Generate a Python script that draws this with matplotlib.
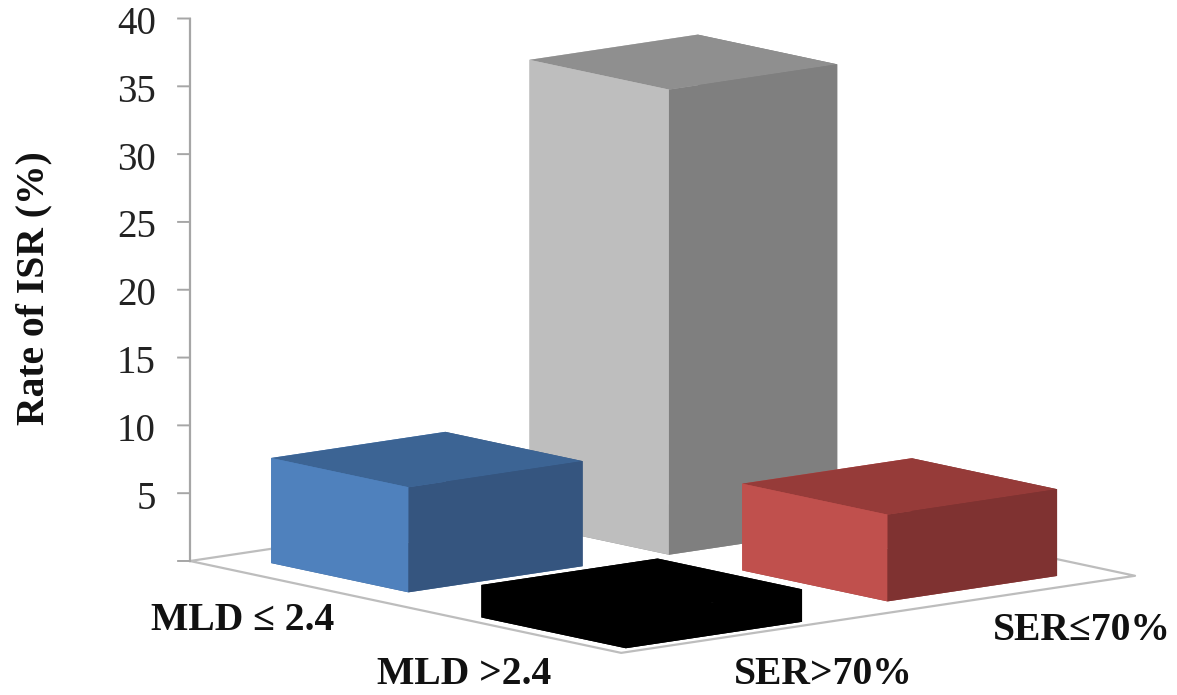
import matplotlib
matplotlib.use("Agg")
import matplotlib.pyplot as plt
from mpl_toolkits.mplot3d import proj3d

plt.rcParams['font.family'] = ['Liberation Serif', 'DejaVu Serif']

W, H = 1177, 695

mld_labels = ["MLD \u2264 2.4", "MLD >2.4"]
ser_labels = ["SER>70%", "SER\u226470%"]
# rate of ISR, rows = MLD group, columns = SER group
rate_low_mld = [7.75, 34.3]
rate_high_mld = [2.4, 6.4]
z_ticks = [0, 5, 10, 15, 20, 25, 30, 35, 40]
z_labels = ["", "5", "10", "15", "20", "25", "30", "35", "40"]
y_title = "Rate of ISR (%)"

# left face, top, right face
col_blue = ["#4F81BD", "#3C6494", "#35557F"]
col_gray = ["#BEBEBE", "#8F8F8F", "#7F7F7F"]
col_black = ["#000000", "#000000", "#000000"]
col_red = ["#C0504D", "#963B39", "#7F3231"]

fig = plt.figure(figsize=(W / 100, H / 100), dpi=100)
ax = fig.add_axes([0, 0, 1, 1], projection="3d", proj_type="ortho")
ax.set_position([0.1, -0.2, 0.8, 0.8 * W / H])
ax.view_init(elev=10.3, azim=-40)
ax.set_xlim(0, 2)
ax.set_ylim(0, 2)
ax.set_zlim(0, 40)
ax.set_box_aspect((1, 1, 0.822))
ax.set_axis_off()
ax.computed_zorder = False
fig.patch.set_facecolor("white")


def to_px(x, y, z):
    px, py, _ = proj3d.proj_transform(x, y, z, ax.get_proj())
    ax.apply_aspect()
    return ax.transData.transform((px, py))


# fit the floor onto the picture: left corner and right corner
left_target = (190, H - 561)
right_target = (1135, H - 575)
pos = ax.get_position(original=True)
w0 = to_px(2, 2, 0)[0] - to_px(0, 0, 0)[0]
scale = (right_target[0] - left_target[0]) / w0
ax.set_position([pos.x0, pos.y0, pos.width * scale, pos.height * scale])
pos = ax.get_position(original=True)
lx, ly = to_px(0, 0, 0)
ax.set_position([pos.x0 + (left_target[0] - lx) / W, pos.y0 + (left_target[1] - ly) / H,
                 pos.width, pos.height])

# floor
floor_col = "#BDBDBD"
ax.plot([0, 2, 2, 0, 0], [0, 0, 2, 2, 0], [0, 0, 0, 0, 0], color=floor_col, lw=1.6, zorder=1)

# vertical axis with ticks pointing left on the screen
ax.plot([0, 0], [0, 0], [0, 40], color="#A6A6A6", lw=1.6, zorder=1)
for t, lab in zip(z_ticks, z_labels):
    ax.plot([0, -0.023], [0, -0.027], [t, t], color="#A6A6A6", lw=1.4, zorder=1)
    if lab:
        tx, ty = to_px(0, 0, t)
        fig.text((tx - 34) / W, (ty - 6) / H, lab, ha="right", va="center", fontsize=28, color="#222222")


def bar(x0, y0, dx, dy, val, cols, zo):
    left, top, right = cols
    ax.bar3d(x0, y0, 0, dx, dy, val,
             color=[top, top, left, right, left, right],
             shade=False, zorder=zo, edgecolor="none", linewidth=0)


bar(0.191, 1.161, 0.647, 0.655, rate_low_mld[1], col_gray, 2)
bar(1.179, 1.160, 0.674, 0.66, rate_high_mld[1], col_red, 3)
bar(0.182, 0.163, 0.637, 0.678, rate_low_mld[0], col_blue, 4)
bar(1.28, 0.06, 0.67, 0.686, rate_high_mld[0], col_black, 5)

fs = 28.5
fig.text(34 / W, 1 - 288 / H, y_title, rotation=90, ha="center", va="center",
         fontsize=fs, fontweight="bold", color="#111111")
fig.text(243 / W, 1 - 620 / H, mld_labels[0], ha="center", va="center", fontsize=fs, fontweight="bold", color="#111111")
fig.text(464 / W, 1 - 675 / H, mld_labels[1], ha="center", va="center", fontsize=fs, fontweight="bold", color="#111111")
fig.text(823 / W, 1 - 675 / H, ser_labels[0], ha="center", va="center", fontsize=fs, fontweight="bold", color="#111111")
fig.text(1082 / W, 1 - 630 / H, ser_labels[1], ha="center", va="center", fontsize=fs, fontweight="bold", color="#111111")

fig.savefig("out.png", dpi=100)
